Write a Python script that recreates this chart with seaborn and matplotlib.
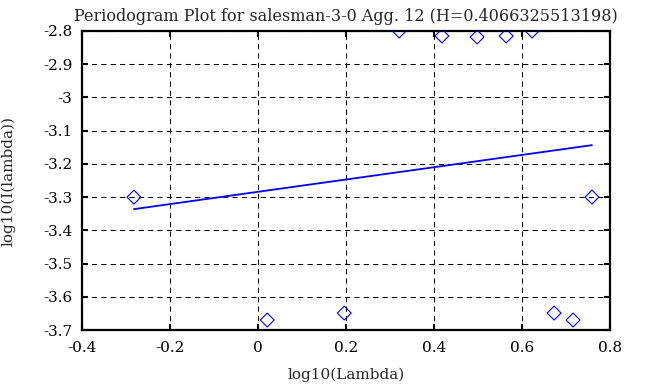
import numpy as np
import pandas as pd
import matplotlib
matplotlib.use("Agg")
import matplotlib.pyplot as plt
import seaborn as sns

# periodogram points
log_lambda = [-0.282, 0.021, 0.196, 0.321, 0.418, 0.498, 0.564, 0.623, 0.759, 0.673, 0.716]
log_i = [-3.300, -3.670, -3.649, -2.800, -2.815, -2.818, -2.815, -2.800, -3.300, -3.649, -3.670]

# fitted line
fit_slope = 0.185
fit_intercept = -3.284

title = "Periodogram Plot for salesman-3-0 Agg. 12 (H=0.4066325513198)"

df = pd.DataFrame({"x": log_lambda, "y": log_i})
xs = np.array([min(log_lambda), max(log_lambda)])
fit = pd.DataFrame({"x": xs, "y": fit_intercept + fit_slope * xs})

sns.set_style("ticks")
plt.rcParams["font.family"] = ["DejaVu Serif"]

fig = plt.figure(figsize=(6.58, 3.87), dpi=100)
ax = fig.add_axes([82 / 658, 57 / 387, 528 / 658, 299 / 387])

sns.scatterplot(data=df, x="x", y="y", ax=ax, marker="D", s=50,
                facecolor="none", edgecolor="#0000ff", linewidth=0.8, zorder=3)
sns.lineplot(data=fit, x="x", y="y", ax=ax, color="#0000ff", linewidth=1.3, zorder=3)

ax.set_xlim(-0.4, 0.8)
ax.set_ylim(-3.7, -2.8)
ax.set_xticks(np.arange(-0.4, 0.81, 0.2))
ax.set_yticks(np.arange(-3.7, -2.79, 0.1))
ax.set_xticklabels(["-0.4", "-0.2", "0", "0.2", "0.4", "0.6", "0.8"])
ax.set_yticklabels(["-3.7", "-3.6", "-3.5", "-3.4", "-3.3", "-3.2", "-3.1", "-3", "-2.9", "-2.8"])
ax.grid(True, color="black", linestyle=(0, (5, 4)), linewidth=0.75)
ax.tick_params(direction="in", length=4.5, width=1.5, top=True, right=True,
               labelsize=11, colors="black")
ax.tick_params(axis="x", pad=8)
ax.tick_params(axis="y", pad=7)
for sp in ax.spines.values():
    sp.set_visible(True)
    sp.set_linewidth(1.6)
    sp.set_color("black")

ax.set_xlabel("log10(Lambda)", fontsize=11, labelpad=9)
ax.set_ylabel("log10(I(lambda))", fontsize=11, labelpad=20)
ax.set_title(title, fontsize=11.5, pad=7)

fig.savefig("out.png", dpi=100)
